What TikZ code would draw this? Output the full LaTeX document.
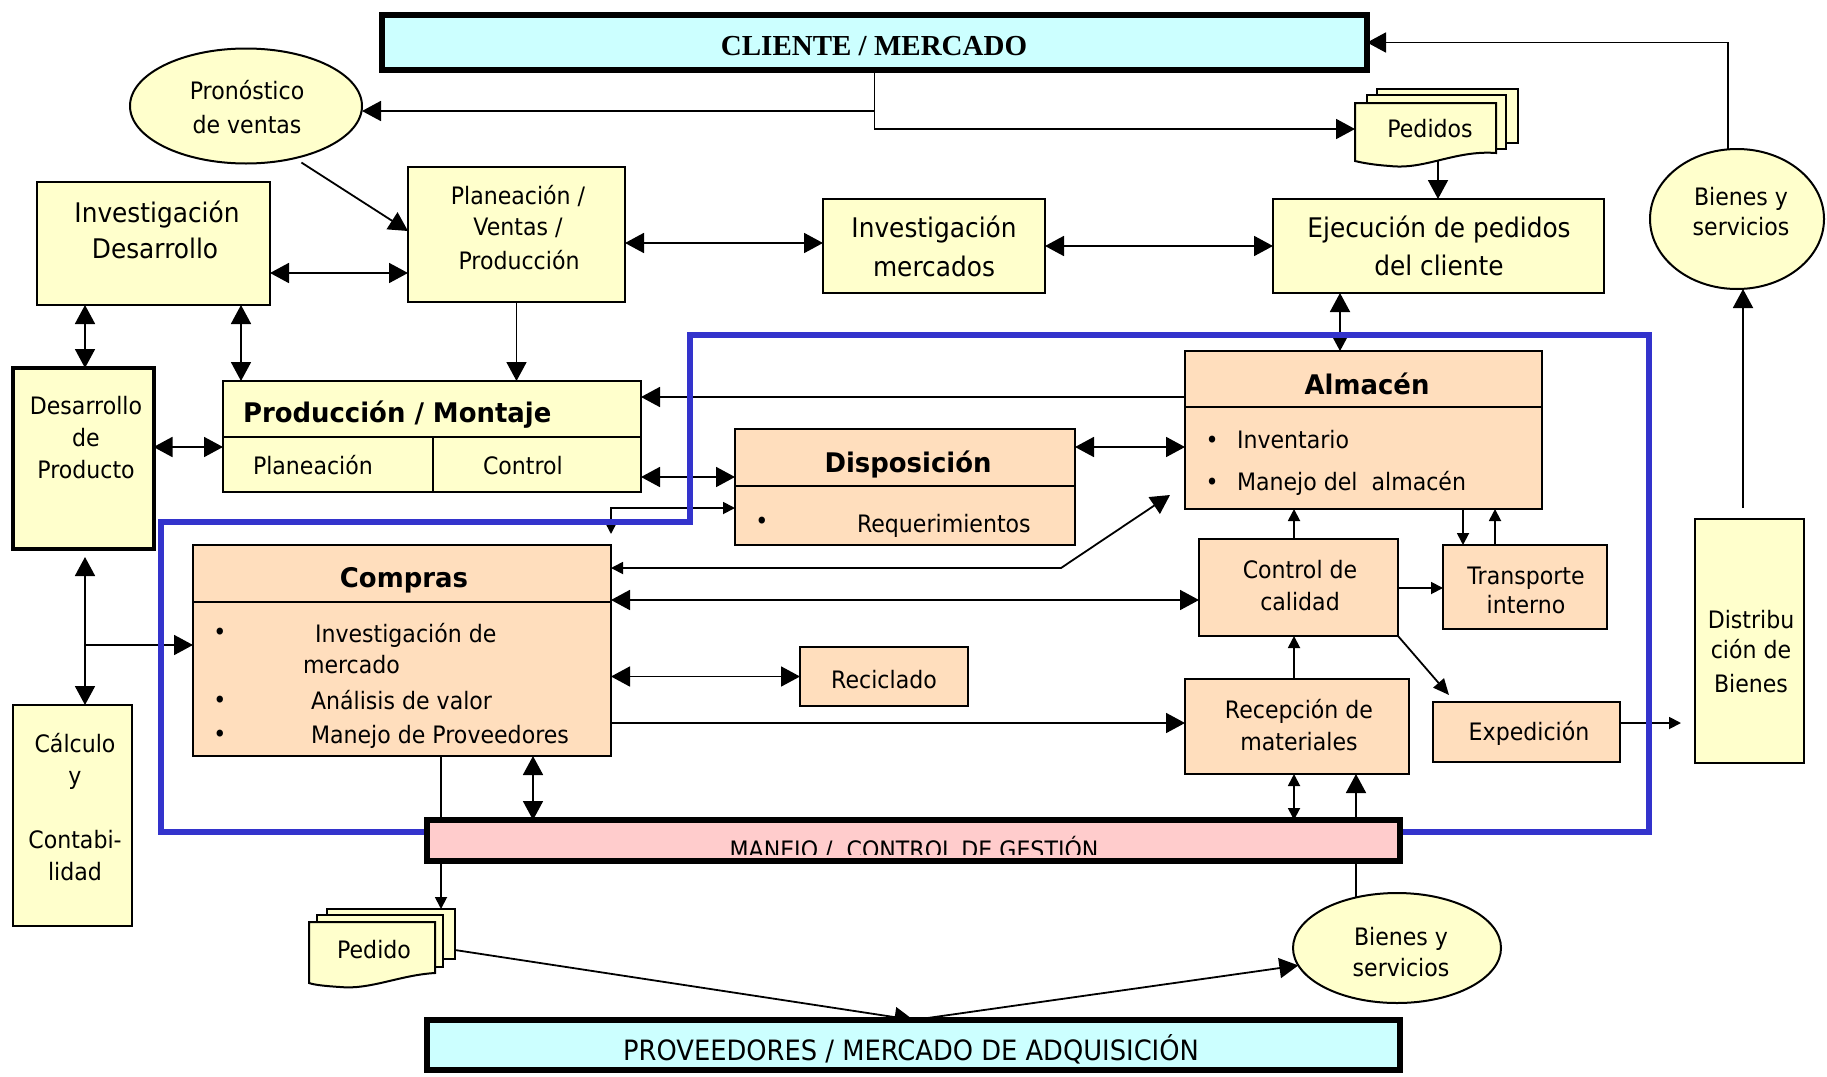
\documentclass[tikz,border=0pt]{standalone}
\usepackage{fontspec}
\setmainfont{DejaVu Sans}[FakeStretch=0.92]
\newfontfamily\titlefont{DejaVu Sans}[FakeStretch=0.96]
\newfontfamily\serifhead{Liberation Serif}
\usetikzlibrary{arrows.meta,calc,shapes.geometric}

\definecolor{paleyellow}{HTML}{FFFFCC}
\definecolor{peach}{HTML}{FFDEBD}
\definecolor{palecyan}{HTML}{CCFFFF}
\definecolor{palepink}{HTML}{FFCCCC}
\definecolor{frameblue}{HTML}{3333CC}

\pgfdeclarelayer{links}
\pgfdeclarelayer{framelayer}
\pgfsetlayers{links,framelayer,main}

\tikzset{
  box/.style={draw=black, line width=2pt, inner sep=0pt, outer sep=0pt},
  ybox/.style={box, fill=paleyellow},
  pbox/.style={box, fill=peach},
  heavybox/.style={draw=black, line width=6pt, inner sep=0pt, outer sep=0pt},
  oval/.style={ellipse, draw=black, line width=2pt, fill=paleyellow, inner sep=0pt, outer sep=0pt},
  docsheet/.style={draw=black, line width=2pt, fill=paleyellow},
  docnode/.style={rectangle, docsheet, inner sep=0pt, outer sep=0pt},
  tl/.style={anchor=base, inner sep=0pt, outer sep=0pt, font=\fontsize{24}{28}\selectfont},
  tll/.style={tl, anchor=base west},
  tlbig/.style={tl, font=\fontsize{27}{32}\selectfont},
  ttl/.style={tl, font=\fontsize{27}{32}\selectfont\titlefont\bfseries},
  con/.style={draw=black, line width=1.8pt},
  arr/.style={con, -{Triangle[length=19pt,width=20pt]}},
  darr/.style={con, {Triangle[length=19pt,width=20pt]}-{Triangle[length=19pt,width=20pt]}},
  marr/.style={con, -{Triangle[length=16pt,width=14pt]}},
  sarr/.style={con, -{Triangle[length=12pt,width=12pt]}},
  sdarr/.style={con, {Triangle[length=12pt,width=12pt]}-{Triangle[length=12pt,width=12pt]}},
  mixarr/.style={con, {Triangle[length=12pt,width=12pt]}-{Triangle[length=19pt,width=20pt]}},
  blueframe/.style={draw=frameblue, line width=5.5pt, line join=miter},
}

\begin{document}
\begin{tikzpicture}[x=1pt,y=-1pt]
\useasboundingbox (0,0) rectangle (1827,1076);

% ---------- outer markets ----------
\node[heavybox, fill=palecyan, minimum width=985pt, minimum height=55pt] (cli) at (874.5,42.5) {};
\node[tl, font=\fontsize{29}{34}\selectfont\serifhead\bfseries] (cli-t) at (874,55) {CLIENTE / MERCADO};

\node[heavybox, fill=palecyan, minimum width=973pt, minimum height=50pt] (prov) at (913.5,1045) {};
\node[tl, font=\fontsize{28}{32}\selectfont] (prov-t) at (911,1060) {PROVEEDORES / MERCADO DE ADQUISICIÓN};

% ---------- upper planning blocks ----------
\node[oval, minimum width=232pt, minimum height=115pt] (pron) at (246,106) {};
\node[tl] (pron-t1) at (247,99) {Pronóstico};
\node[tl] (pron-t2) at (247,133) {de ventas};

\node[ybox, minimum width=233pt, minimum height=123pt] (invd) at (153.5,243.5) {};
\node[tlbig] (invd-t1) at (157,222) {Investigación};
\node[tlbig] (invd-t2) at (155,258) {Desarrollo};

\node[ybox, minimum width=217pt, minimum height=135pt] (plan) at (516.5,234.5) {};
\node[tl] (plan-t1) at (518,204) {Planeación /};
\node[tl] (plan-t2) at (518,235) {Ventas /};
\node[tl] (plan-t3) at (519,269) {Producción};

\node[ybox, minimum width=222pt, minimum height=94pt] (invm) at (934,246) {};
\node[tlbig] (invm-t1) at (934,237) {Investigación};
\node[tlbig] (invm-t2) at (934,276) {mercados};

\node[ybox, minimum width=331pt, minimum height=94pt] (ejec) at (1438.5,246) {};
\node[tlbig] (ejec-t1) at (1439,237) {Ejecución de pedidos};
\node[tlbig] (ejec-t2) at (1439,275) {del cliente};

% customer orders (stack of sheets)
\node[docnode, minimum width=141pt, minimum height=54pt] (peds3) at (1447.5,116) {};
\node[docnode, minimum width=139pt, minimum height=54pt] (peds2) at (1436.5,122) {};
\draw[docsheet] (1355,103) -- (1496,103) -- (1496,153)
  .. controls (1455,150) and (1425,170) .. (1390,166)
  .. controls (1375,165) and (1363,163) .. (1355,161) -- cycle;
\node[tl] (peds-t) at (1430,137) {Pedidos};
\coordinate (peds-in) at (1355,129);
\coordinate (peds-out) at (1438,150);

\node[oval, minimum width=174pt, minimum height=140pt] (bien1) at (1737,219) {};
\node[tl] (bien1-t1) at (1741,205) {Bienes y};
\node[tl] (bien1-t2) at (1741,235) {servicios};

% ---------- left column ----------
\node[ybox, line width=4pt, minimum width=141pt, minimum height=181pt] (desp) at (83,458.5) {};
\node[tl] (desp-t1) at (86,414) {Desarrollo};
\node[tl] (desp-t2) at (86,446) {de};
\node[tl] (desp-t3) at (86,478) {Producto};

\node[ybox, minimum width=119pt, minimum height=221pt] (calc) at (72,815.5) {};
\node[tl] (calc-t1) at (75,752) {Cálculo};
\node[tl] (calc-t2) at (75,784) {y};
\node[tl] (calc-t3) at (75,848) {Contabi-};
\node[tl] (calc-t4) at (75,880) {lidad};

% ---------- production ----------
\node[ybox, minimum width=418pt, minimum height=111pt] (prod) at (432,436.5) {};
\draw[line width=2pt] (prod.west |- 0,437) -- (prod.east |- 0,437);
\draw[line width=2pt] (433,437) -- (prod.south -| 433,0);
\node[ttl, anchor=base west] (prod-t) at (243,422) {Producción / Montaje};
\node[tll] (prod-p) at (253,474) {Planeación};
\node[tll] (prod-c) at (483,474) {Control};

% ---------- logistics core ----------
\node[pbox, minimum width=357pt, minimum height=158pt] (alm) at (1363.5,430) {};
\draw[line width=2pt] (alm.west |- 0,407) -- (alm.east |- 0,407);
\node[ttl] (alm-t) at (1367,394) {Almacén};
\node[tl] (alm-b1) at (1212,448) {•};
\node[tl] (alm-b2) at (1212,490) {•};
\node[tll] (alm-i1) at (1237,448) {Inventario};
\node[tll] (alm-i2) at (1237,490) {Manejo del\ \ almacén};

\node[pbox, minimum width=340pt, minimum height=116pt] (disp) at (905,487) {};
\draw[line width=2pt] (disp.west |- 0,486) -- (disp.east |- 0,486);
\node[ttl] (disp-t) at (908,472) {Disposición};
\node[tl] (disp-b1) at (762,529) {•};
\node[tll] (disp-i1) at (857,532) {Requerimientos};

\node[pbox, minimum width=418pt, minimum height=211pt] (comp) at (402,650.5) {};
\draw[line width=2pt] (comp.west |- 0,602) -- (comp.east |- 0,602);
\node[ttl] (comp-t) at (404,587) {Compras};
\node[tl] (comp-b1) at (220,640) {•};
\node[tl] (comp-b2) at (220,708) {•};
\node[tl] (comp-b3) at (220,742) {•};
\node[tll] (comp-i1) at (315,642) {Investigación de};
\node[tll] (comp-i1b) at (303,673) {mercado};
\node[tll] (comp-i2) at (311,709) {Análisis de valor};
\node[tll] (comp-i3) at (311,743) {Manejo de Proveedores};

\node[pbox, minimum width=168pt, minimum height=59pt] (recic) at (884,676.5) {};
\node[tl] (recic-t) at (884,688) {Reciclado};

\node[pbox, minimum width=199pt, minimum height=97pt] (ctrl) at (1298.5,587.5) {};
\node[tl] (ctrl-t1) at (1300,578) {Control de};
\node[tl] (ctrl-t2) at (1300,610) {calidad};

\node[pbox, minimum width=164pt, minimum height=84pt] (trans) at (1525,587) {};
\node[tl] (trans-t1) at (1526,584) {Transporte};
\node[tl] (trans-t2) at (1526,613) {interno};

\node[pbox, minimum width=224pt, minimum height=95pt] (recep) at (1297,726.5) {};
\node[tl] (recep-t1) at (1299,718) {Recepción de};
\node[tl] (recep-t2) at (1299,750) {materiales};

\node[pbox, minimum width=187pt, minimum height=60pt] (exped) at (1526.5,732) {};
\node[tl] (exped-t) at (1529,740) {Expedición};

\node[ybox, minimum width=109pt, minimum height=244pt] (dist) at (1749.5,641) {};
\node[tl] (dist-t1) at (1751,628) {Distribu};
\node[tl] (dist-t2) at (1751,658) {ción de};
\node[tl] (dist-t3) at (1751,692) {Bienes};

% ---------- management bar ----------
\node[heavybox, fill=palepink, minimum width=973pt, minimum height=41pt] (man) at (913.5,840.5) {};
\begin{scope}
  \clip (430,823) rectangle (1397,854);
  \node[tl] (man-t) at (914,858) {MANEJO / \ CONTROL DE GESTIÓN};
\end{scope}

% purchase orders (stack of sheets)
\node[docnode, minimum width=128pt, minimum height=50pt] (pd3) at (391,934) {};
\node[docnode, minimum width=126pt, minimum height=52pt] (pd2) at (380,941) {};
\draw[docsheet] (309,922) -- (435,922) -- (435,973)
  .. controls (400,975) and (370,990) .. (340,987)
  .. controls (325,986) and (315,985) .. (309,983) -- cycle;
\node[tl] (pd-t) at (374,958) {Pedido};

\node[oval, minimum width=208pt, minimum height=110pt] (bien2) at (1397,948) {};
\node[tl] (bien2-t1) at (1401,945) {Bienes y};
\node[tl] (bien2-t2) at (1401,976) {servicios};

% ---------- logistics frame ----------
\begin{pgfonlayer}{framelayer}
  \draw[blueframe] (man.west |- 0,832) -- (161,832) -- (161,522) -- (690,522)
    -- (690,335) -- (1649,335) -- (1649,832) -- (man.east |- 0,832);
\end{pgfonlayer}

% ---------- connectors ----------
\coordinate (desp-bot) at (85,557);
\coordinate (comp-top) at (611,534);
\coordinate (alm-in) at (1170,495);
\coordinate (exp-in) at (1449,695);
\coordinate (dist-in) at (1681,723);
\coordinate (dist-top) at (1743,508);
\coordinate (bien2-top) at (1356,898);

\begin{pgfonlayer}{links}
  \fill[white] (0,0) rectangle (1827,1076);

  \draw[arr] (cli.south) |- (peds-in);
  \draw[arr] (cli.south |- 0,111) -- (pron.east |- 0,111);
  \draw[arr] (peds-out) -- (ejec.north -| peds-out);
  \draw[arr] ([xshift=-9pt]bien1.north) |- (cli.east);
  \draw[arr] (dist-top) -- (bien1.south -| dist-top);

  \draw[arr, shorten <=8pt] (pron.313) -- (plan.west |- 0,231);
  \draw[darr] (invd.east |- 0,273) -- (plan.west |- 0,273);
  \draw[darr] (plan.east |- 0,243) -- (invm.west |- 0,243);
  \draw[darr] (invm.east) -- (ejec.west);
  \draw[darr] (ejec.south -| 1340,0) -- (alm.north -| 1340,0);

  \draw[darr] (invd.south -| 85,0) -- (desp.north -| 85,0);
  \draw[darr] (invd.south -| 241,0) -- (prod.north -| 241,0);
  \draw[arr] (plan.south) -- (prod.north -| plan.south);
  \draw[darr] (desp.east |- 0,447) -- (prod.west |- 0,447);
  \draw[arr] (alm.west |- 0,397) -- (prod.east |- 0,397);
  \draw[darr] (prod.east |- 0,477) -- (disp.west |- 0,477);
  \draw[sdarr] (disp.west |- 0,508) -| (comp-top);
  \draw[darr] (disp.east |- 0,447) -- (alm.west |- 0,447);

  \draw[mixarr] (comp.east |- 0,568) -- (1061,568) -- (alm-in);
  \draw[darr] (comp.east |- 0,600) -- (ctrl.west |- 0,600);
  \draw[darr] (comp.east |- recic.west) -- (recic.west);
  \draw[arr] (comp.east |- 0,723) -- (recep.west |- 0,723);

  \draw[darr] (desp-bot) -- (calc.north -| desp-bot);
  \draw[arr] (desp-bot |- 0,645) -- (comp.west |- 0,645);

  \draw[sarr] (ctrl.north -| 1294,0) -- (alm.south -| 1294,0);
  \draw[sarr] (recep.north -| 1294,0) -- (ctrl.south -| 1294,0);
  \draw[sarr] (ctrl.east |- 0,588) -- (trans.west |- 0,588);
  \draw[sarr] (alm.south -| 1463,0) -- (trans.north -| 1463,0);
  \draw[sarr] (trans.north -| 1495,0) -- (alm.south -| 1495,0);
  \draw[marr] (ctrl.south east) -- (exp-in);
  \draw[sarr] (exped.east |- 0,723) -- (dist-in);

  \draw[darr] (comp.south -| 533,0) -- (man.north -| 533,0);
  \draw[sarr] (comp.south -| 441,0) -- (pd3.north -| 441,0);
  \draw[sdarr] (recep.south -| 1294,0) -- (man.north -| 1294,0);
  \draw[arr] (bien2-top) -- (recep.south -| bien2-top);

  \draw[arr] (pd3.east |- 0,950) -- (prov.north);
  \draw[arr] (prov.north) -- (bien2.190);
\end{pgfonlayer}
\end{tikzpicture}
\end{document}
